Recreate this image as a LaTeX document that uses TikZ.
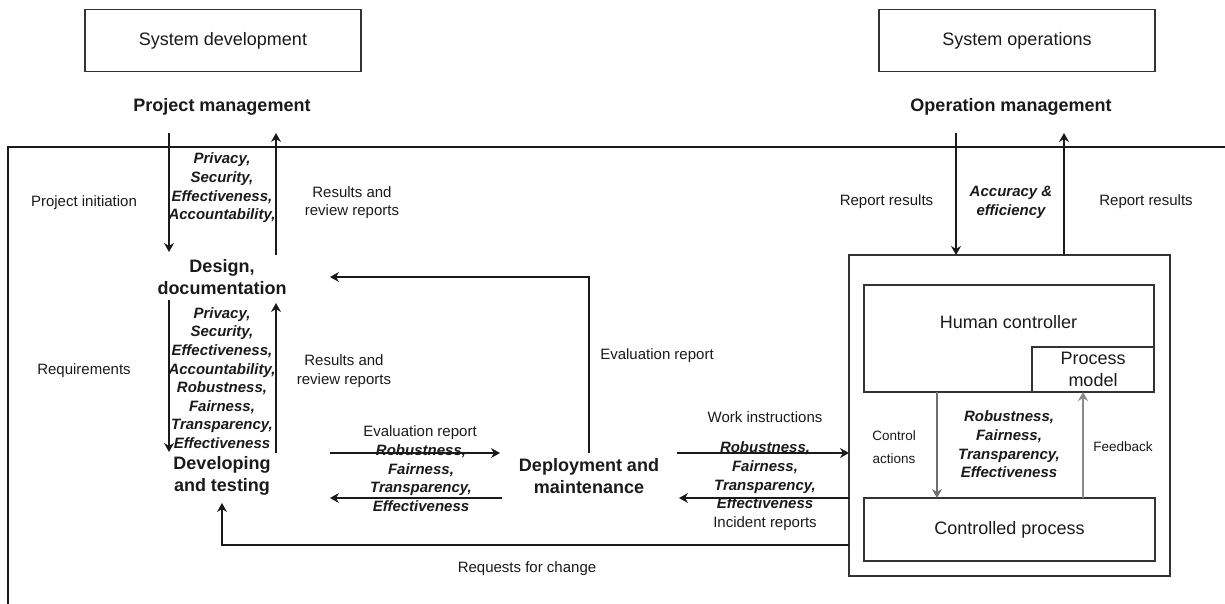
\documentclass[tikz,border=0pt]{standalone}
\usepackage{fontspec}
\setmainfont{Liberation Sans}
\usetikzlibrary{arrows.meta}
\definecolor{ink}{HTML}{1A1A1A}
\definecolor{edge}{HTML}{333333}
\definecolor{loopgray}{HTML}{6E6E6E}
\definecolor{fbgray}{HTML}{8A8A8A}
\begin{document}
\begin{tikzpicture}[x=1pt,y=-1pt,
  every node/.style={text=ink, inner sep=0pt},
  box/.style={draw=edge, line width=1.3pt, font=\fontsize{18}{21.5}\selectfont},
  head/.style={font=\bfseries\fontsize{18}{21.5}\selectfont, align=center},
  qual/.style={font=\bfseries\itshape\fontsize{15}{18.6}\selectfont, align=center},
  lbl/.style={font=\fontsize{15}{18.5}\selectfont, align=center},
  small/.style={font=\fontsize{13.5}{23}\selectfont, align=center},
  frame/.style={draw=ink, line width=1.3pt},
  arr/.style={draw=ink, line width=1.3pt, -{Stealth[length=9pt,width=10pt,inset=3pt]}},
]
\useasboundingbox (0,0) rectangle (1225,603);
\clip (0,0) rectangle (1225,603);

% ---- top level: development and operations ----
\node[box, minimum width=276pt, minimum height=62pt] (sysdev) at (223,40.5) {System development};
\node[box, minimum width=276pt, minimum height=62pt] (sysops) at (1017,40.5) {System operations};
\node[head] (pm) at (222,107) {Project management};
\node[head] (om) at (1011,107) {Operation management};

% ---- organisation frame (runs past the right and bottom edges) ----
\draw[frame] (1240,147) -- (8,147) -- (8,640);

% ---- life-cycle stages ----
\node[head] (design) at (222,277) {Design,\\documentation};
\node[head] (devtest) at (222,476) {Developing\\and testing};
\node[head] (deploy) at (589,476) {Deployment and\\maintenance};

% ---- quality attributes ----
\node[qual] (q1) at (222,188) {Privacy,\\Security,\\Effectiveness,\\Accountability,};
\node[qual] (q2) at (222,378) {Privacy,\\Security,\\Effectiveness,\\Accountability,\\Robustness,\\Fairness,\\Transparency,\\Effectiveness};
\node[qual] (q3) at (421,478) {Robustness,\\Fairness,\\Transparency,\\Effectiveness};
\node[qual] (q4) at (765,475.5) {Robustness,\\Fairness,\\Transparency,\\Effectiveness};
\node[qual] (q5) at (1009,444.5) {Robustness,\\Fairness,\\Transparency,\\Effectiveness};
\node[qual] (acc) at (1011,202.5) {Accuracy \&\\efficiency};

% ---- flow labels ----
\node[lbl] (pinit) at (84,203) {Project initiation};
\node[lbl] (req) at (84,371) {Requirements};
\node[lbl] (rr1) at (352,202.5) {Results and\\review reports};
\node[lbl] (rr2) at (344,371) {Results and\\review reports};
\node[lbl] (ev1) at (657,356) {Evaluation report};
\node[lbl] (ev2) at (420,433) {Evaluation report};
\node[lbl] (wi) at (765,417) {Work instructions};
\node[lbl] (ir) at (765,524) {Incident reports};
\node[lbl] (rfc) at (527,569) {Requests for change};
\node[lbl] (rep1) at (886.5,202) {Report results};
\node[lbl] (rep2) at (1146,202) {Report results};
\node[small] (ctl) at (894,447.5) {Control\\actions};
\node[small] (fb) at (1123,447) {Feedback};

% ---- control structure ----
\node[box, minimum width=321pt, minimum height=321pt] (ops) at (1009.5,415.5) {};
\node[box, minimum width=290pt, minimum height=107pt] (hc) at (1009,338.5) {};
\node[font=\fontsize{18}{21.5}\selectfont] (hctext) at (1008.5,322) {Human controller};
\node[box, minimum width=122pt, minimum height=45pt, align=center,
      font=\fontsize{18}{22}\selectfont] (pmodel) at (1093,369.5) {Process\\model};
\node[box, minimum width=291pt, minimum height=63pt] (cp) at (1009.5,529.5) {Controlled process};

% ---- connector end points ----
\coordinate (pmDown) at (169,133);   \coordinate (dsIn) at (169,252);
\coordinate (dsOut) at (276,255);    \coordinate (pmUp) at (276,133);
\coordinate (dsDown) at (169,300);   \coordinate (dtIn) at (169,452);
\coordinate (dtOut) at (276,453);    \coordinate (dsUp) at (276,303);
\coordinate (dtR) at (330,453);      \coordinate (dpL) at (500,453);
\coordinate (dpLo) at (502,498);     \coordinate (dtRi) at (330,498);
\coordinate (dpTop) at (589,453);    \coordinate (dsR) at (330,277);
\coordinate (dpR) at (677,453);      \coordinate (opsWi) at (849,453);
\coordinate (opsIr) at (849,498);    \coordinate (dpRi) at (679,498);
\coordinate (opsRfc) at (849,545);   \coordinate (dtBot) at (222,503);
\coordinate (omDown) at (956,133);   \coordinate (opsIn) at (956,255);
\coordinate (opsOut) at (1064,255);  \coordinate (omUp) at (1064,133);
\coordinate (hcOut) at (937,392);    \coordinate (cpIn) at (937,498);
\coordinate (cpOut) at (1083,498);   \coordinate (pmIn) at (1083,392);

% ---- connectors ----
\draw[arr] (pmDown) -- (dsIn);
\draw[arr] (dsOut) -- (pmUp);
\draw[arr] (dsDown) -- (dtIn);
\draw[arr] (dtOut) -- (dsUp);
\draw[arr] (dtR) -- (dpL);
\draw[arr] (dpLo) -- (dtRi);
\draw[arr] (dpTop) |- (dsR);
\draw[arr] (dpR) -- (opsWi);
\draw[arr] (opsIr) -- (dpRi);
\draw[arr] (opsRfc) -| (dtBot);
\draw[arr] (omDown) -- (opsIn);
\draw[arr] (opsOut) -- (omUp);
\draw[arr, draw=loopgray] (hcOut) -- (cpIn);
\draw[arr, draw=fbgray] (cpOut) -- (pmIn);
\end{tikzpicture}
\end{document}
